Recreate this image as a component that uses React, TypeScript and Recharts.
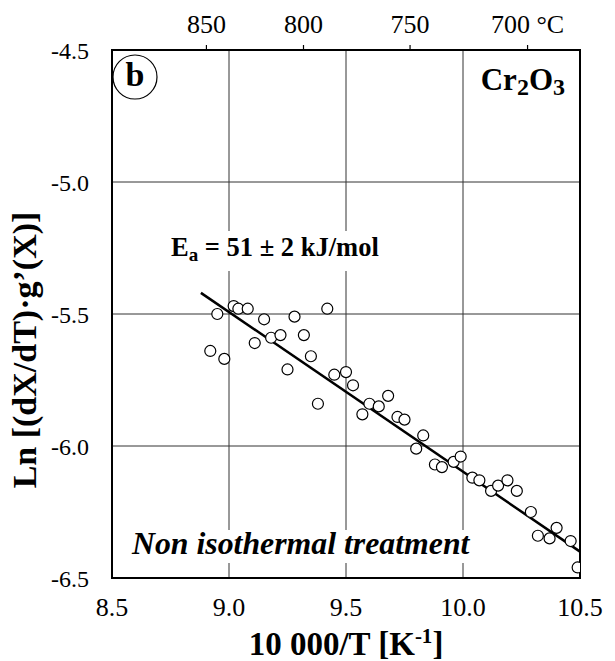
import { ComposedChart, Scatter, XAxis, YAxis, CartesianGrid, ReferenceArea } from "recharts"

// 10 000/T [K-1] and Ln[(dX/dT)·g'(X)]
const invT = [
  8.92, 8.95, 8.98, 9.02, 9.04, 9.08, 9.11, 9.15, 9.18, 9.22,
  9.25, 9.28, 9.32, 9.35, 9.38, 9.42, 9.45, 9.5, 9.53, 9.57,
  9.6, 9.64, 9.68, 9.72, 9.75, 9.8, 9.83, 9.88, 9.91, 9.96,
  9.99, 10.04, 10.07, 10.12, 10.15, 10.19, 10.23, 10.29, 10.32, 10.37,
  10.4, 10.46, 10.49,
]
const lnRate = [
  -5.64, -5.5, -5.67, -5.47, -5.48, -5.48, -5.61, -5.52, -5.59, -5.58,
  -5.71, -5.51, -5.58, -5.66, -5.84, -5.48, -5.73, -5.72, -5.77, -5.88,
  -5.84, -5.85, -5.81, -5.89, -5.9, -6.01, -5.96, -6.07, -6.08, -6.06,
  -6.04, -6.12, -6.13, -6.17, -6.15, -6.13, -6.17, -6.25, -6.34, -6.35,
  -6.31, -6.36, -6.46,
]

// fitted Arrhenius line, Ea = 51 kJ/mol
const fitX = [8.88, 10.5]
const fitY = [-5.42, -6.4]

const xTicks = [8.5, 9.0, 9.5, 10.0, 10.5]
const yTicks = [-6.5, -6.0, -5.5, -5.0, -4.5]
const tempC = [850, 800, 750, 700]
const tempLabels = ["850", "800", "750", "700 °C"]

const points = invT.map((x, i) => ({ x, y: lnRate[i] }))
const fitPts = fitX.map((x, i) => ({ x, y: fitY[i] }))
const topTicks = tempC.map((t) => 10000 / (t + 273.15))

const font = "'Liberation Serif', 'Times New Roman', serif"
const tickStyle = { fontSize: 26, fill: "#000", fontFamily: font }

function topLabel(v: number) {
  const i = topTicks.findIndex((t) => Math.abs(t - v) < 1e-6)
  return i >= 0 ? tempLabels[i] : ""
}

const Dot = (p: any) => <circle cx={p.cx} cy={p.cy} r={5.5} fill="#fff" stroke="#000" strokeWidth={1.2} />
const Nothing = () => <g />

export default function App() {
  return (
    <div style={{ position: "relative", width: 607, height: 653 }}>
      <ComposedChart width={607} height={653} margin={{ top: 2, right: 35, left: 0, bottom: 0 }}>
        <CartesianGrid stroke="#333" strokeWidth={1} horizontalValues={yTicks} verticalValues={xTicks} />
        <XAxis
          type="number" dataKey="x" domain={[8.5, 10.5]} ticks={xTicks} allowDataOverflow
          tickFormatter={(v) => v.toFixed(1)} height={83} tickSize={0} tickMargin={20}
          tickLine={false} axisLine={{ stroke: "#000", strokeWidth: 2 }} tick={tickStyle}
        />
        <XAxis
          xAxisId="top" orientation="top" type="number" dataKey="x" domain={[8.5, 10.5]} ticks={topTicks}
          allowDataOverflow interval={0} tickFormatter={topLabel} height={40} tickSize={5} tickMargin={12}
          tickLine={{ stroke: "#000", strokeWidth: 1.2 }} axisLine={{ stroke: "#000", strokeWidth: 2 }} tick={tickStyle}
        />
        <YAxis
          type="number" dataKey="y" domain={[-6.5, -4.5]} ticks={yTicks} allowDataOverflow
          tickFormatter={(v) => v.toFixed(1)} width={104} tickSize={0} tickMargin={23}
          tickLine={false} axisLine={{ stroke: "#000", strokeWidth: 2 }} tick={{ ...tickStyle, fontSize: 24 }}
        />
        <Scatter xAxisId="top" data={fitPts} shape={Nothing} isAnimationActive={false} />
        <Scatter data={fitPts} line={{ stroke: "#000", strokeWidth: 2.5 }} shape={Nothing} isAnimationActive={false} />
        <Scatter data={points} shape={Dot} isAnimationActive={false} />
        <ReferenceArea x1={8.5} x2={10.5} y1={-6.5} y2={-4.5} fill="none" stroke="#000" strokeWidth={2} fillOpacity={0} />
      </ComposedChart>

      <svg width={607} height={653} style={{ position: "absolute", left: 0, top: 0, overflow: "visible", pointerEvents: "none" }}
        fontFamily={font} fontWeight="bold">
        <circle cx={127} cy={69} r={22} fill="#fff" stroke="#000" strokeWidth={1.2} />
        <text x={127} y={78} fontSize={34} textAnchor="middle">b</text>

        <text x={557} y={82} fontSize={31} textAnchor="end">
          Cr<tspan fontSize={24} dy={5}>2</tspan><tspan dy={-5}>O</tspan><tspan fontSize={24} dy={5}>3</tspan>
        </text>

        <rect x={157} y={223} width={235} height={40} fill="#fff" />
        <text x={163} y={248} fontSize={26.5}>
          E<tspan fontSize={19} dy={5}>a</tspan><tspan dy={-5}> = 51 ± 2 kJ/mol</tspan>
        </text>

        <rect x={118} y={522} width={355} height={33} fill="#fff" />
        <text x={124} y={546} fontSize={31.8} fontStyle="italic">Non isothermal treatment</text>

        <text x={338} y={647} fontSize={33} textAnchor="middle">
          10 000/T [K<tspan fontSize={21} dy={-12}>-1</tspan><tspan dy={12}>]</tspan>
        </text>

        <text transform="translate(28,342) rotate(-90)" fontSize={34} textAnchor="middle">
          Ln [(dX/dT)·g’(X)]
        </text>
      </svg>
    </div>
  )
}
